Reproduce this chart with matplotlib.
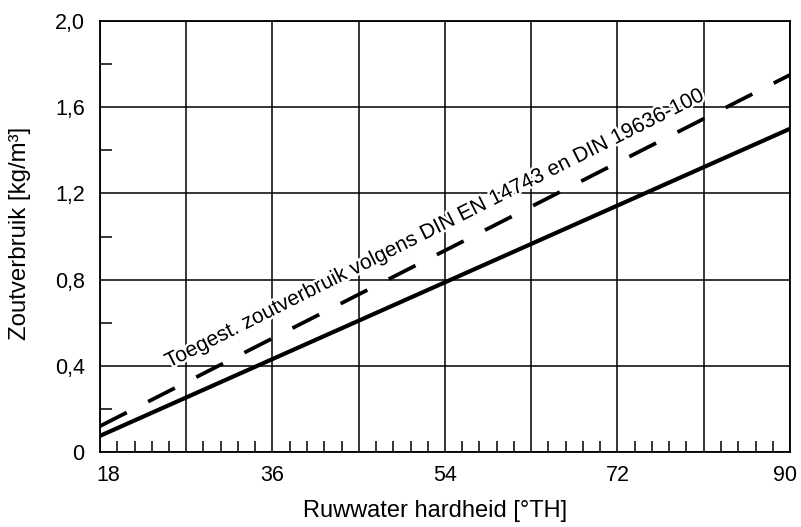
import matplotlib
matplotlib.use("Agg")
import matplotlib.pyplot as plt
from matplotlib.ticker import MultipleLocator, FixedLocator, FixedFormatter
import matplotlib.transforms as mtransforms
import matplotlib.patheffects as pe

plt.rcParams['font.family'] = ['Liberation Sans', 'DejaVu Sans']

# Data
x_line = [18, 90]
y_actual = [0.075, 1.50]          # solid line: actual salt consumption
y_allowed = [0.12, 1.75]          # dashed line: allowed consumption
x_ticks = [18, 27, 36, 45, 54, 63, 72, 81, 90]
x_tick_labels = ['18', '', '36', '', '54', '', '72', '', '90']
y_ticks = [0.0, 0.4, 0.8, 1.2, 1.6, 2.0]
y_tick_labels = ['0', '0,4', '0,8', '1,2', '1,6', '2,0']
annotation = 'Toegest. zoutverbruik volgens DIN EN 14743 en DIN 19636-100'
x_label = 'Ruwwater hardheid [°TH]'
y_label = 'Zoutverbruik [kg/m³]'

fig = plt.figure(figsize=(8.01, 5.27), dpi=100)
ax = fig.add_axes([100/801, 75/527, 690/801, 431/527])

ax.plot(x_line, y_actual, color='black', lw=3.0, solid_capstyle='butt', zorder=3)
ax.plot(x_line, y_allowed, color='black', lw=2.7, dashes=(8.0, 6.4),
        dash_capstyle='butt', zorder=3)

ax.set_xlim(18, 90)
ax.set_ylim(0, 2.0)

ax.xaxis.set_major_locator(FixedLocator(x_ticks))
ax.xaxis.set_major_formatter(FixedFormatter(x_tick_labels))
ax.yaxis.set_major_locator(FixedLocator(y_ticks))
ax.yaxis.set_major_formatter(FixedFormatter(y_tick_labels))
ax.xaxis.set_minor_locator(MultipleLocator(1.8))
ax.yaxis.set_minor_locator(FixedLocator([0.2, 0.6, 1.0, 1.4, 1.8]))

ax.grid(True, which='major', color='black', lw=1.1, zorder=1)
ax.tick_params(which='major', length=0, labelsize=15.5, pad=9.5)
ax.tick_params(axis='y', which='major', pad=11)
ax.tick_params(which='minor', direction='in', length=7.8, width=1.1, color='black')
ax.tick_params(axis='y', which='minor', length=8.6)
for sp in ax.spines.values():
    sp.set_linewidth(1.3)
    sp.set_color('black')

# shift first/last x tick labels slightly inward like the reference
labels = ax.get_xticklabels()
offs = {0: 8/100, 8: -5/100}
for i, lab in enumerate(labels):
    if i in offs:
        lab.set_transform(lab.get_transform() +
                          mtransforms.ScaledTranslation(offs[i], 0, fig.dpi_scale_trans))

ax.text(25.2, 0.39, annotation, fontsize=15.2, rotation=26.6,
        rotation_mode='anchor', ha='left', va='baseline', zorder=4,
        path_effects=[pe.withStroke(linewidth=3.5, foreground='white')])

fig.text(435/801, (527-517)/527, x_label, fontsize=17, ha='center', va='baseline')
fig.text(20/801, (527-233)/527, y_label, fontsize=17.3, ha='center', va='center',
         rotation=90)

fig.savefig('out.png', dpi=100)
